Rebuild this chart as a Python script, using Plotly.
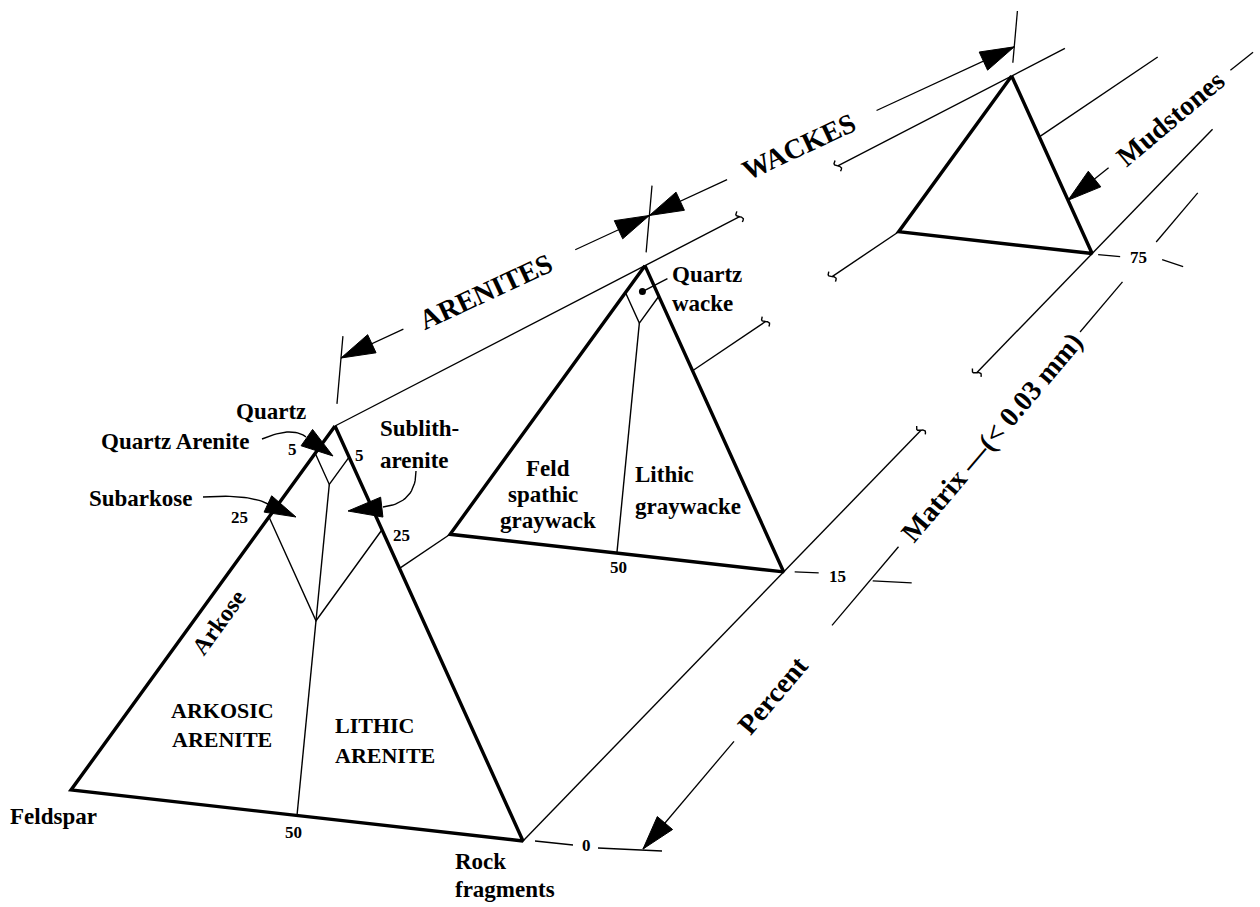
import numpy as np
import plotly.graph_objects as go

# ---------------- data ----------------
matrix_pct = [0, 15, 75]                       # % matrix at each triangle
matrix_labels = ["0", "15", "75"]
qa_label = "5"                                 # quartz-arenite boundary (% F or R)
sub_label = "25"                               # subarkose / sublitharenite boundary
fr_label = "50"                                # F : R split on the base
sub_pct = 25
fr_pct = 50
cap_pct_as_drawn = [7.5, 10.0]                 # quartz cap as sketched in the 0 % and 15 % triangles
qwacke_dot = [91, 4.5, 4.5]                    # Q, F, R of the quartz-wacke dot

# ---------------- drawing geometry (perspective sketch) ----------------
W, H = 1260, 907
VP = np.array([1518.0, -186.0])                # vanishing point of the matrix axis
DEPTH = {0: 1.0, 15: 0.738, 75: 0.428}         # perspective scale of each triangle
V_Q = np.array([335.0, 426.0])
V_F = np.array([71.0, 790.0])
V_R = np.array([523.0, 841.0])

FONT = "Liberation Serif, Times New Roman, serif"
INK = "#000000"


def proj(p, s):
    return VP + s * (np.asarray(p, float) - VP)


def tern(q, f, r, s=1.0):
    return proj((q * V_Q + f * V_F + r * V_R) / (q + f + r), s)


def unit(v):
    v = np.asarray(v, float)
    return v / np.linalg.norm(v)


def intersect(p1, p2, p3, p4):
    d1, d2 = p2 - p1, p4 - p3
    t, _ = np.linalg.solve(np.array([d1, -d2]).T, p3 - p1)
    return p1 + t * d1


thick, thin, dims = [], [], []
heads = []


def arrowhead(tip, direction, length=34, half=10):
    d = unit(direction)
    n = np.array([-d[1], d[0]])
    tip = np.asarray(tip, float)
    base = tip - d * length
    heads.append(np.array([tip, base + n * half, base - n * half, tip]))


def squiggle(E, d, a=6.0, b=2.5):
    d = unit(d)
    n = np.array([-d[1], d[0]])
    t = np.linspace(-1, 1, 11)
    pts = [E + n * a * ti + d * b * np.sin(np.pi * ti) for ti in t]
    thin.append(np.array(pts))


def bezier(p0, c, p2, n=20):
    p0, c, p2 = map(lambda v: np.asarray(v, float), (p0, c, p2))
    t = np.linspace(0, 1, n)[:, None]
    return (1 - t) ** 2 * p0 + 2 * (1 - t) * t * c + t ** 2 * p2


# triangles
for m in matrix_pct:
    s = DEPTH[m]
    thick.append(np.array([tern(100, 0, 0, s), tern(0, 100, 0, s), tern(0, 0, 100, s), tern(100, 0, 0, s)]))

# internal boundaries, 0 % triangle
s1 = DEPTH[0]
c = cap_pct_as_drawn[0]
thin.append(np.array([tern(100 - c, c, 0, s1), tern(100 - 2 * c, c, c, s1), tern(100 - c, 0, c, s1)]))
thin.append(np.array([tern(100 - sub_pct, sub_pct, 0, s1), tern(100 - 2 * sub_pct, sub_pct, sub_pct, s1),
                      tern(100 - sub_pct, 0, sub_pct, s1)]))
thin.append(np.array([tern(100 - 2 * c, c, c, s1), tern(0, fr_pct, 100 - fr_pct, s1)]))

# internal boundaries, 15 % triangle
s2 = DEPTH[15]
c = cap_pct_as_drawn[1]
thin.append(np.array([tern(100 - c, c, 0, s2), tern(100 - 2 * c, c, c, s2), tern(100 - c, 0, c, s2)]))
thin.append(np.array([tern(100 - 2 * c, c, c, s2), tern(0, fr_pct, 100 - fr_pct, s2)]))
dot = tern(*qwacke_dot, s2)
thin.append(np.array([dot, dot + np.array([25.0, -13.0])]))

# prism edges running to the vanishing point (hidden behind opaque faces)
s3 = DEPTH[75]
X = intersect(V_F, VP, V_Q, V_R)
s_exit = (X[0] - VP[0]) / (V_F[0] - VP[0])
edge_segments = [
    (V_Q, [(1.0, 0.658), (0.575, 0.383)], [0.658, 0.575]),
    (V_F, [(s_exit, s2), (s_exit * s2, 0.52), (0.474, s3), (s_exit * s3, 0.249)], [0.52, 0.474]),
    (V_R, [(1.0, 0.60), (0.544, 0.307)], [0.60, 0.544]),
]
for v, segs, breaks in edge_segments:
    for a, b in segs:
        thin.append(np.array([proj(v, a), proj(v, b)]))
    d = unit(VP - v)
    for bs in breaks:
        squiggle(proj(v, bs), d)

# top dimension line (ARENITES / WACKES)
D0 = np.array([341.0, 358.0])
D = lambda s: proj(D0, s)
for a, b in [(1.0, 0.947), (0.801, s2), (s2, 0.672), (0.545, s3)]:
    dims.append(np.array([D(a), D(b)]))
arrowhead(D(1.0), D(1.0) - D(0.9))
arrowhead(D(s2), D(s2) - D(0.8))
arrowhead(D(s2), D(s2) - D(0.65))
arrowhead(D(s3), D(s3) - D(0.5))
tick_dir = unit([6.0, -68.0])
tick_ext = {0: (46, 22), 15: (37, 30), 75: (16, 36)}
for m in matrix_pct:
    p = D(DEPTH[m])
    lo, hi = tick_ext[m]
    dims.append(np.array([p - tick_dir * lo, p + tick_dir * hi]))

# matrix dimension line (right)
M0 = np.array([643.0, 849.0])
M = lambda s: proj(M0, s)
for a, b in [(1.0, 0.896), (0.784, 0.708), (0.5005, 0.452), (0.4135, 0.366)]:
    dims.append(np.array([M(a), M(b)]))
arrowhead(M(1.0), M(1.0) - M(0.9))

# matrix level ticks beside the rock-fragment corners: (dash1 dx, dy), label dx,dy, (dash2 dx, dy)
tick_layout = {
    0: ((12, 0, 50, 4), (63, 4), (75, 7, 139, 10)),
    15: ((11, 0, 35, 1), (54, 5), (89, 9, 128, 11)),
    75: ((6, 1, 28, 3), (46, 4), (70, 6, 91, 13)),
}
tick_label_pos = {}
for m in matrix_pct:
    R = tern(0, 0, 100, DEPTH[m])
    d1, lab, d2 = tick_layout[m]
    dims.append(np.array([R + [d1[0], d1[1]], R + [d1[2], d1[3]]]))
    dims.append(np.array([R + [d2[0], d2[1]], R + [d2[2], d2[3]]]))
    tick_label_pos[m] = R + np.array(lab, float)

# Mudstones dimension line
q3, r3 = tern(100, 0, 0, s3), tern(0, 0, 100, s3)
mud_tip = q3 + 0.70 * (r3 - q3)
mud_dir = unit([185.0, -148.0])
dims.append(np.array([mud_tip, mud_tip + mud_dir * 52]))
dims.append(np.array([mud_tip + mud_dir * 208, mud_tip + mud_dir * 237]))
arrowhead(mud_tip, -mud_dir)
mud_text = mud_tip + mud_dir * 131

# curved call-out arrows
thin.append(bezier((262, 439), (292, 426), (306, 437)))
arrowhead((333, 456), (27, 19), length=32, half=10)
thin.append(bezier((203, 497), (250, 494), (268, 504)))
arrowhead((296, 517), (28, 13), length=31, half=9)
thin.append(bezier((416, 471), (416, 503), (383, 507)))
arrowhead((348, 511), (-35, 4), length=34, half=10)


# ---------------- figure ----------------
def lines_trace(polys, width):
    xs, ys = [], []
    for p in polys:
        xs += list(p[:, 0]) + [None]
        ys += list(p[:, 1]) + [None]
    return go.Scatter(x=xs, y=ys, mode="lines", line=dict(color=INK, width=width),
                      hoverinfo="skip", showlegend=False)


fig = go.Figure()
fig.add_trace(lines_trace(thin, 1.4))
fig.add_trace(lines_trace(dims, 1.3))
fig.add_trace(lines_trace(thick, 3.4))
for h in heads:
    fig.add_trace(go.Scatter(x=h[:, 0], y=h[:, 1], mode="lines", fill="toself", fillcolor=INK,
                             line=dict(color=INK, width=1), hoverinfo="skip", showlegend=False))
fig.add_trace(go.Scatter(x=[dot[0]], y=[dot[1]], mode="markers", marker=dict(color=INK, size=7),
                         hoverinfo="skip", showlegend=False))

texts = []


def T(text, x, y, size=23, angle=0, anchor="center"):
    texts.append(dict(text=text, x=float(x), y=float(y), xref="x", yref="y", showarrow=False,
                      xanchor=anchor, yanchor="middle", textangle=angle, align=anchor if anchor != "center" else "center",
                      font=dict(family=FONT, size=size, color=INK, weight="bold")))


T("Quartz", 271, 411)
T("Quartz Arenite", 175, 441)
T(qa_label, 292, 449, 17)
T(qa_label, 359, 455, 17)
T("Sublith-", 378, 428, anchor="left")
T("arenite", 378, 460, anchor="left")
T("Subarkose", 141, 498)
T(sub_label, 239, 517, 17)
T(sub_label, 401, 535, 17)
T("Arkose", 219, 622, 24, angle=-54)
T("ARKOSIC", 222, 710, 22)
T("ARENITE", 222, 739, 22)
T("LITHIC", 333, 725, 22, anchor="left")
T("ARENITE", 333, 755, 22, anchor="left")
T("Feldspar", 53, 816)
T(fr_label, 293, 832, 17)
T("Rock", 453, 861, anchor="left")
T("fragments", 453, 889, anchor="left")
T("Quartz", 670, 274, anchor="left")
T("wacke", 670, 303, anchor="left")
T("Feld", 548, 468)
T("spathic", 543, 494)
T("graywack", 548, 520)
T("Lithic", 633, 474, anchor="left")
T("graywacke", 633, 506, anchor="left")
T(fr_label, 618, 567, 17)
for m, lab in zip(matrix_pct, matrix_labels):
    p = tick_label_pos[m]
    T(lab, p[0], p[1], 17)

ang_top = -np.degrees(np.arctan2(abs(VP[1] - D0[1]), VP[0] - D0[0]))
ang_mat = -np.degrees(np.arctan2(abs(VP[1] - M0[1]), VP[0] - M0[0]))
p = D(0.877); T("ARENITES", p[0], p[1], 28, angle=ang_top)
p = D(0.611); T("WACKES", p[0], p[1], 28, angle=ang_top)
p = M(0.851); T("Percent", p[0], p[1], 28, angle=ang_mat)
p = M(0.602); T("Matrix —(< 0.03 mm)", p[0], p[1], 28, angle=ang_mat)
T("Mudstones", mud_text[0], mud_text[1], 28, angle=-40)

fig.update_layout(
    width=W, height=H, margin=dict(l=0, r=0, t=0, b=0),
    paper_bgcolor="white", plot_bgcolor="white",
    xaxis=dict(range=[0, W], visible=False, fixedrange=True),
    yaxis=dict(range=[H, 0], visible=False, fixedrange=True),
    annotations=texts, showlegend=False,
)

fig.write_html("out.html", config={"displayModeBar": False},
               post_script="document.body.style.margin='0';")
